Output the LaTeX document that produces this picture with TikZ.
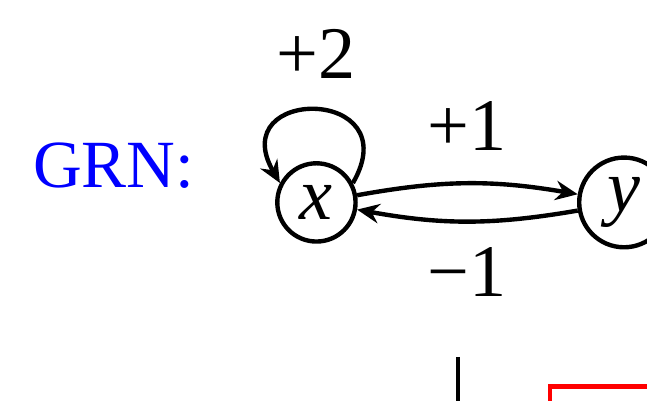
\documentclass[tikz,border=0pt]{standalone}
\usepackage{fontspec}
\setmainfont{Liberation Serif}
\usetikzlibrary{arrows.meta, positioning}

\begin{document}
\begin{tikzpicture}[>={Stealth[length=3.3pt,width=2.9pt,inset=1.1pt]}, line width=0.65pt,
    gene/.style={draw, circle, inner sep=0pt, font=\fontsize{11}{13}\selectfont},
    sign/.style={font=\fontsize{11}{13}\selectfont}]
    % window of the panel (x sits at the origin)
    \useasboundingbox (-46.9pt,-29.4pt) rectangle (49pt,30pt);
    \clip (-46.9pt,-29.4pt) rectangle (49pt,30pt);

    % genes
    \node[gene, minimum size=11.6pt] (x) {\textit{x}};
    \node[gene, minimum size=13.3pt] (y) [right=32.5pt of x] {\textit{y}};
    \node[text=blue] (grn) [left=8.3pt of x, yshift=5.5pt] {GRN:};

    % self-activation of x
    \draw[->] (x.28) .. controls +(60:16.6pt) and +(120:16.6pt) .. node[sign, above, yshift=1pt] {+2} (x.152);

    % x and y regulate each other
    \draw[->, bend left=10] (x) to node[sign, above, yshift=1.3pt] {+1} (y);
    \draw[->, bend left=10] (y) to node[sign, below, yshift=-0.2pt] {−1} (x);

    % start of the panel below
    \coordinate (stem) at (21pt,-22.9pt);
    \coordinate (stemend) at (21pt,-32pt);
    \draw (stem) -- (stemend);
    \draw[red] (34.6pt,-27.3pt) rectangle (60pt,-40pt);
\end{tikzpicture}
\end{document}
